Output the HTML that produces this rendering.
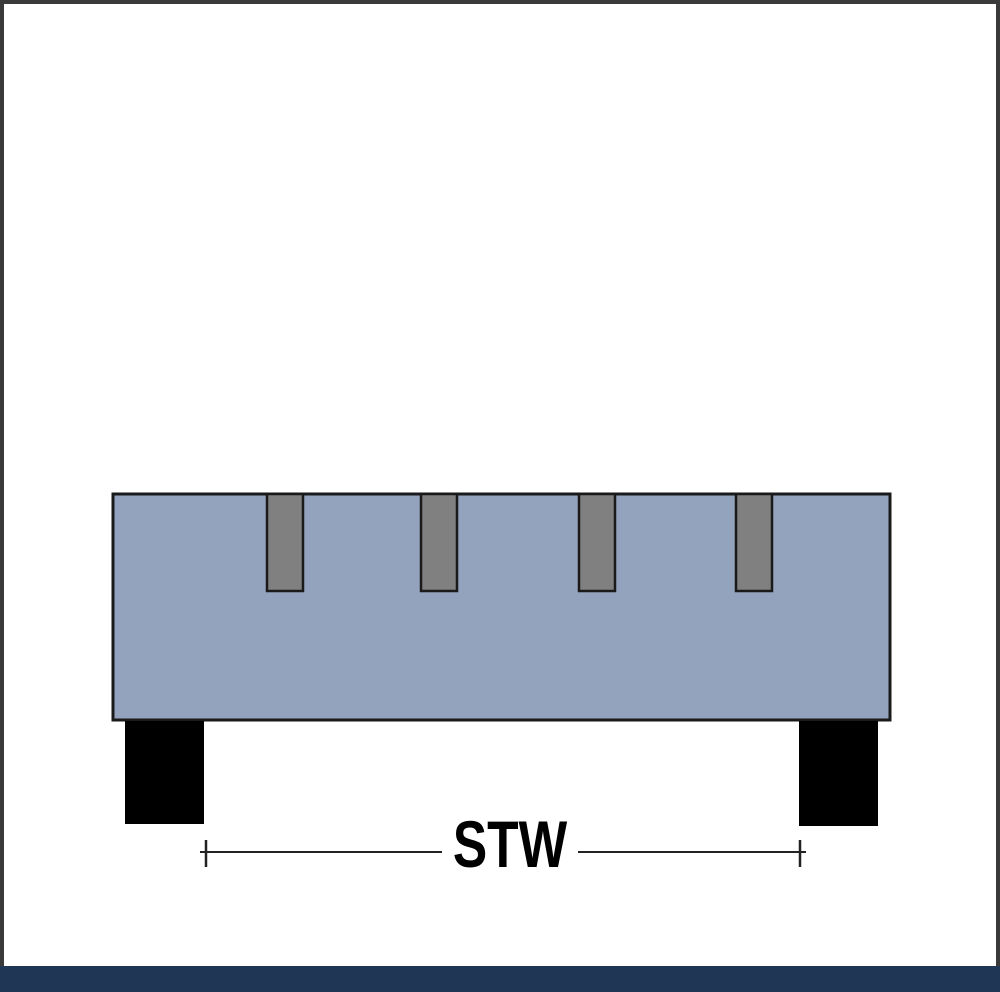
<!DOCTYPE html>
<html><head><style>
html,body{margin:0;padding:0;width:1000px;height:992px;overflow:hidden;background:#fff}
</style></head><body>
<svg width="1000" height="992" viewBox="0 0 1000 992" xmlns="http://www.w3.org/2000/svg">
<rect x="0" y="0" width="1000" height="992" fill="#3a3a3a"/>
<rect x="4" y="4" width="992" height="962" fill="#fff"/>
<rect x="0" y="966" width="1000" height="26" fill="#1f3654"/>
<rect x="113" y="494" width="777" height="226" fill="#94a3bd" stroke="#1a1a1a" stroke-width="3"/>
<g fill="#808080" stroke="#1a1a1a" stroke-width="2.5">
<rect x="267" y="494" width="36" height="97"/>
<rect x="421" y="494" width="36" height="97"/>
<rect x="579" y="494" width="36" height="97"/>
<rect x="736" y="494" width="36" height="97"/>
</g>
<rect x="125" y="721" width="79" height="103" fill="#000"/>
<rect x="799" y="721" width="79" height="105" fill="#000"/>
<g stroke="#222" stroke-width="2">
<line x1="200" y1="852" x2="442" y2="852"/>
<line x1="578" y1="852" x2="806" y2="852"/>
<line x1="206" y1="840" x2="206" y2="867" stroke-width="2.5"/>
<line x1="800" y1="840" x2="800" y2="867" stroke-width="2.5"/>
</g>
<text x="510" y="867" text-anchor="middle" font-family="Liberation Sans, sans-serif" font-weight="bold" font-size="66" fill="#000" transform="translate(510 0) scale(0.78 1) translate(-510 0)">STW</text>
</svg>
</body></html>
